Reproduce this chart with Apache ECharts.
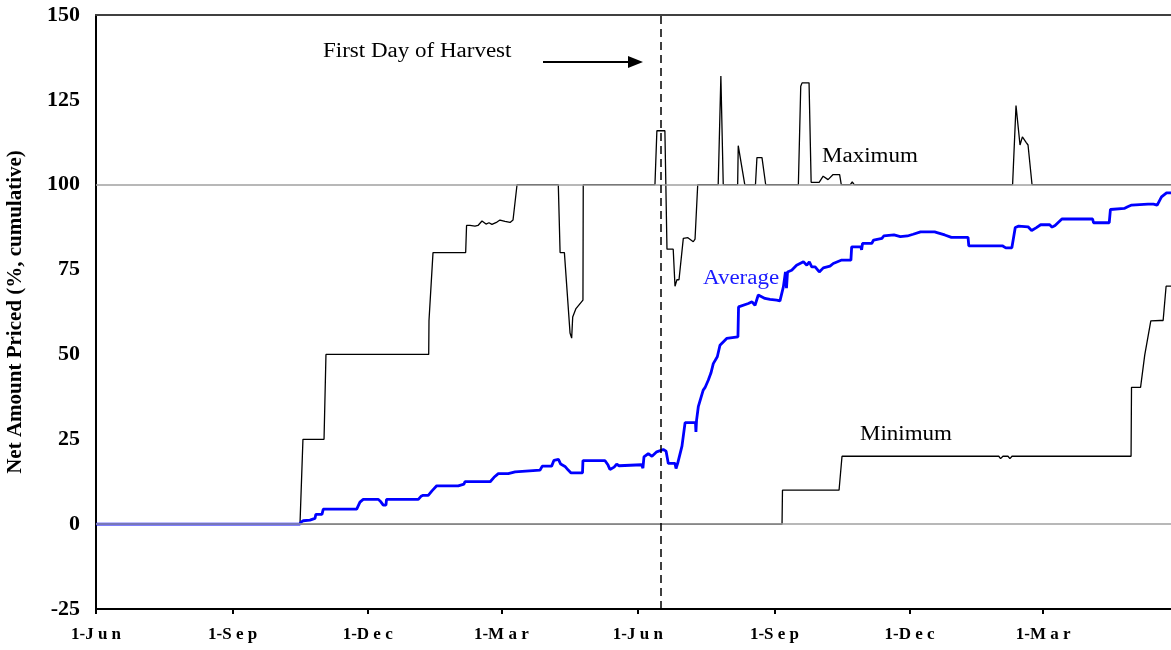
<!DOCTYPE html>
<html>
<head>
<meta charset="utf-8"/>
<title>Net Amount Priced</title>
<style>
    html, body { margin: 0; padding: 0; background: #fff; }
    #main { width: 1171px; height: 650px; }
</style>
</head>
<body>
<div id="main"></div>
<script src="https://cdn.jsdelivr.net/npm/echarts@6/dist/echarts.min.js"></script>
<script>
    // x = days since 1-Jun of the first season
    var tickDays = [0, 92, 183, 273, 365, 457, 548, 638];
    var tickLabels = ['1-Jun', '1-Sep', '1-Dec', '1-Mar', '1-Jun', '1-Sep', '1-Dec', '1-Mar'];
    var yMin = -25, yMax = 150, yStep = 25;
    var xMax = 724.1;
    var harvestDay = 380.6;
    var refLevels = [0, 100];

    var maxPts = [
        [0, 0], [137.4, 0], [139.4, 25], [153.6, 25], [154.9, 50], [224.1, 50], [224.3, 60], [227, 80],
        [249, 80], [249.6, 88], [251.9, 88], [255.3, 87.8], [257.3, 88], [260, 89.3], [262.7, 88.4],
        [264.7, 88.8], [266.7, 88.3], [270.1, 89], [272.1, 89.6], [275.5, 89.2], [278.9, 88.9],
        [280.9, 89.6], [283.6, 100], [311.4, 100], [312.6, 80], [315.5, 80], [319.3, 56.3],
        [320.4, 54.8], [321.1, 61], [323.3, 63.5], [328, 66], [328.2, 100], [376.5, 100],
        [377.8, 115.9], [383.2, 115.9], [384.6, 81], [388.8, 81], [390, 70.1], [391.3, 72],
        [392.7, 72], [395.6, 84.2], [398.7, 84.4], [402.3, 83.2], [403.5, 84], [405.3, 100],
        [419.1, 100], [420.9, 132], [422.5, 100], [432.2, 100], [432.6, 111.5], [437, 100],
        [444.2, 100], [445.2, 108], [448.6, 108], [451.1, 100], [473.1, 100], [474.7, 129],
        [475.6, 130], [480.3, 130], [481.7, 100.7], [487.1, 100.7], [489.8, 102.5], [493.1, 101.5],
        [496.5, 103], [500.9, 103], [502, 100], [508.1, 100], [509.4, 100.8], [510.7, 100],
        [617.4, 100], [619.7, 123.3], [622.4, 111.7], [624, 114.1], [626.5, 112.5], [627.8, 111.7],
        [630.5, 100], [724.1, 100]
    ];

    var avgPts = [
        [0, 0], [137.4, 0], [138.1, 0.6], [139.6, 1], [140.8, 1.2], [144.1, 1.2], [144.8, 1.7],
        [147.5, 1.7], [148.1, 2.9], [152.2, 2.9], [153.1, 4.4], [175.6, 4.4], [177.8, 6.5],
        [180, 7.3], [190.2, 7.3], [192, 6.5], [193.5, 5.6], [195.3, 5.6], [195.7, 7.3],
        [217.1, 7.3], [218.9, 8.2], [220.4, 8.5], [223.8, 8.5], [226.3, 9.8], [229.5, 11.3],
        [244, 11.3], [244.5, 11.8], [247.9, 11.8], [248.5, 12.5], [265.5, 12.5], [268.1, 13.8],
        [271, 14.9], [277.7, 14.9], [278.2, 15.4], [282.3, 15.4], [282.6, 15.9], [299.1, 15.9],
        [300.6, 17.1], [306.9, 17.1], [308.5, 18.8], [309.8, 19.2], [311.5, 19.1], [313, 17.7],
        [315.9, 17], [317.9, 16], [320, 15.1], [327.7, 15.1], [328, 18.7], [342.9, 18.7],
        [344.9, 17.4], [346.2, 16.1], [349, 16.8], [350.7, 17.7], [352.3, 17.2], [353.6, 17.5],
        [367.5, 17.5], [368.4, 16.5], [369.1, 19.8], [372, 20.8], [374.5, 20], [377.7, 21.3],
        [382.1, 22], [384, 21.5], [385.5, 17.9], [390, 17.9], [390.7, 16.4], [391.8, 17.9],
        [394.7, 23], [396.8, 29.9], [403.8, 29.9], [404.1, 27.2], [404.5, 30.5], [405.7, 34.6],
        [409, 39.5], [410.2, 40.2], [412.4, 42.4], [414.2, 44.5], [415.8, 47.3], [418.5, 49.3],
        [420.3, 52.7], [424.8, 54.7], [432.4, 55.2], [432.8, 64], [439.4, 65], [441.9, 65.5],
        [443.9, 64.5], [446.1, 67.5], [450.6, 66.5], [454, 66.2], [458.5, 66], [460.7, 65.8],
        [463, 69.9], [464.4, 74.3], [465.1, 69.5], [465.8, 74.3], [468.6, 74.8], [471.9, 76.3],
        [476.5, 77.3], [478.8, 76.3], [480.5, 77.3], [482.1, 75.8], [484.4, 75.8], [487.2, 74.3],
        [489.9, 75.5], [494.4, 76], [496.6, 76.8], [502.3, 77.8], [508.5, 77.8], [509, 81.7],
        [515.2, 81.7], [515.7, 80.8], [516.3, 82.7], [522.5, 82.7], [523.8, 83.7], [529.4, 84.2],
        [530.6, 84.9], [537.5, 85.2], [541.8, 84.7], [546.6, 84.9], [550.4, 85.4], [555.4, 86.1],
        [564.9, 86.1], [566.5, 85.9], [571.7, 85.2], [576.2, 84.5], [587.4, 84.5], [587.9, 82],
        [607.1, 82], [608.2, 81.5], [610.5, 82], [612.8, 81.4], [616.9, 81.4], [619.2, 87.4],
        [621.5, 87.8], [627.8, 87.6], [630.2, 86.5], [633.2, 87.3], [636.3, 88.2], [642.4, 88.2],
        [644, 87.5], [646, 88], [650.6, 89.9], [671.3, 89.9], [671.9, 88.8], [682.5, 88.8],
        [683.3, 92.7], [692.6, 93], [694.9, 93.5], [697.6, 94], [708.6, 94.3], [712.3, 94.3],
        [714.8, 94], [717.7, 96.4], [721.1, 97.6], [724.1, 97.6]
    ];

    var minPts = [
        [0, 0], [462.1, 0], [462.4, 10], [500.5, 10], [502.5, 20], [608.1, 20], [609.3, 19.3],
        [610.9, 20], [614.3, 20], [615.6, 19.3], [617, 20], [697.2, 20], [697.5, 40.3],
        [703.6, 40.3], [706.4, 49.8], [707.3, 50], [710.5, 59.9], [716.8, 60], [717.8, 59.6],
        [718.8, 60], [720.8, 70.1], [724.1, 70.1]
    ];

    var serif = "'Liberation Serif', 'Times New Roman', serif";

    function spaced(label) {
        var p = label.split('-');
        return p[0] + '-' + p[1].split('').join(' ');
    }

    var option = {
        backgroundColor: '#ffffff',
        animation: false,
        grid: { left: 96, top: 15, right: 0, bottom: 41, outerBoundsMode: 'none', containLabel: false },
        xAxis: [
            {
                type: 'value',
                min: 0,
                max: xMax,
                axisLine: { onZero: false, lineStyle: { color: '#000', width: 2 } },
                axisTick: { show: true, customValues: tickDays, length: 5, lineStyle: { color: '#000', width: 2 } },
                axisLabel: {
                    customValues: tickDays,
                    margin: 17,
                    fontFamily: serif,
                    fontWeight: 'bold',
                    fontSize: 17,
                    color: '#000',
                    formatter: function (v) {
                        var i = tickDays.indexOf(v);
                        return i < 0 ? '' : spaced(tickLabels[i]);
                    }
                },
                splitLine: { show: false }
            },
            {
                type: 'value',
                position: 'top',
                min: 0,
                max: xMax,
                axisLine: { show: true, onZero: false, lineStyle: { color: '#404040', width: 2 } },
                axisTick: { show: false },
                axisLabel: { show: false },
                splitLine: { show: false }
            }
        ],
        yAxis: {
            type: 'value',
            min: yMin,
            max: yMax,
            interval: yStep,
            name: 'Net Amount Priced (%, cumulative)',
            nameLocation: 'middle',
            nameGap: 70,
            nameTextStyle: { fontFamily: serif, fontWeight: 'bold', fontSize: 21, color: '#000' },
            axisLine: { show: true, onZero: false, lineStyle: { color: '#000', width: 2 } },
            axisTick: { show: false },
            axisLabel: { margin: 16, fontFamily: serif, fontWeight: 'bold', fontSize: 22, color: '#000' },
            splitLine: { show: false }
        },
        series: [
            {
                name: 'ref',
                type: 'line',
                data: [],
                z: 1,
                silent: true,
                markLine: {
                    silent: true,
                    symbol: 'none',
                    label: { show: false },
                    lineStyle: { color: '#a0a0a0', width: 1.5, type: 'solid' },
                    data: refLevels.map(function (v) { return { yAxis: v }; })
                }
            },
            {
                name: 'Maximum',
                type: 'line',
                data: maxPts,
                z: 3,
                showSymbol: false,
                lineStyle: { color: '#000', width: 1.3 },
                markLine: {
                    silent: true,
                    symbol: 'none',
                    label: { show: false },
                    lineStyle: { color: '#000', width: 1.5, type: [8, 5] },
                    data: [{ xAxis: harvestDay }]
                }
            },
            {
                name: 'Minimum',
                type: 'line',
                data: minPts,
                z: 3,
                showSymbol: false,
                lineStyle: { color: '#000', width: 1.3 }
            },
            {
                name: 'Average',
                type: 'line',
                data: avgPts,
                z: 4,
                showSymbol: false,
                lineStyle: { color: '#0000ff', width: 2.8 }
            }
        ],
        graphic: [
            { type: 'text', x: 323, y: 52, scaleX: 1.15, style: { text: 'First Day of Harvest', font: '20px ' + serif, fill: '#000', textVerticalAlign: 'middle' } },
            { type: 'line', shape: { x1: 543, y1: 62, x2: 630, y2: 62 }, style: { stroke: '#000', lineWidth: 2 } },
            { type: 'polygon', shape: { points: [[628, 56], [643, 62], [628, 68]] }, style: { fill: '#000' } },
            { type: 'text', x: 822, y: 157, scaleX: 1.15, style: { text: 'Maximum', font: '20px ' + serif, fill: '#000', textVerticalAlign: 'middle' } },
            { type: 'text', x: 703, y: 279, scaleX: 1.15, style: { text: 'Average', font: '20px ' + serif, fill: '#1a1aff', textVerticalAlign: 'middle' } },
            { type: 'text', x: 860, y: 435, scaleX: 1.15, style: { text: 'Minimum', font: '20px ' + serif, fill: '#000', textVerticalAlign: 'middle' } }
        ]
    };

    var myChart = echarts.init(document.getElementById('main'));
    myChart.setOption(option);
</script>
</body>
</html>
